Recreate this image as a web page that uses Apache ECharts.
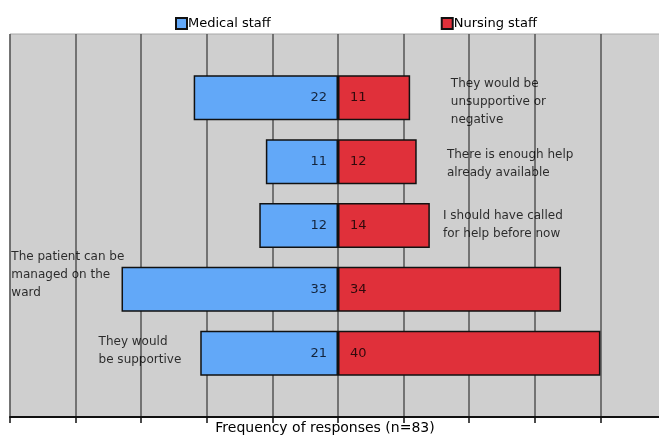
<!DOCTYPE html>
<html>
<head>
<meta charset="utf-8">
<script src="https://cdn.jsdelivr.net/npm/echarts@6/dist/echarts.min.js"></script>
<style>
  html, body { margin: 0; padding: 0; background: #fff; overflow: hidden; }
  /* a bit wider than the window: the +50 gridline falls just off the right edge */
  #chart { width: 666px; height: 437px; }
</style>
</head>
<body>
<div id="chart"></div>
<script>
const categories = [
  'They would be unsupportive or negative',
  'There is enough help already available',
  'I should have called for help before now',
  'The patient can be managed on the ward',
  'They would be supportive'
]
const noteLines = [
  ['They would be', 'unsupportive or', 'negative'],
  ['There is enough help', 'already available'],
  ['I should have called', 'for help before now'],
  ['The patient can be', 'managed on the', 'ward'],
  ['They would', 'be supportive']
]
const medical = [22, 11, 12, 33, 21]
const nursing = [11, 12, 14, 34, 40]

// where each note sits (x in axis units, dy in px), layout only
const notePlace = [
  { x: 17.2, dy: 4 },
  { x: 16.6, dy: 2 },
  { x: 16.0, dy: -1 },
  { x: -49.8, dy: -14 },
  { x: -36.5, dy: -2 }
]

const font = 'DejaVu Sans'
const yData = [' '].concat(categories, ['  '])

const chart = echarts.init(document.getElementById('chart'))
chart.setOption({
  animation: false,
  textStyle: { fontFamily: font },
  legend: {
    left: 175,
    top: 17,
    padding: 0,
    icon: 'rect',
    itemWidth: 11,
    itemHeight: 11,
    itemGap: 170,
    data: ['Medical staff', 'Nursing staff'],
    textStyle: { fontFamily: font, fontSize: 13, color: '#000', padding: [0, 0, 0, -4] }
  },
  grid: {
    left: 10,
    right: 0,
    top: 34,
    bottom: 20,
    outerBoundsMode: 'none',
    containLabel: false,
    show: true,
    backgroundColor: '#cfcfcf',
    borderColor: '#a8a8a8',
    borderWidth: 1
  },
  xAxis: {
    type: 'value',
    min: -50,
    max: 50,
    interval: 10,
    name: 'Frequency of responses (n=83)',
    nameLocation: 'middle',
    nameGap: 4,
    nameTextStyle: { fontFamily: font, fontSize: 14, color: '#000', padding: [0, 26, 0, 0] },
    axisLine: { show: true, onZero: false, lineStyle: { color: '#111', width: 2 } },
    axisTick: { show: true, length: 6, lineStyle: { color: '#111', width: 1.5 } },
    axisLabel: { show: false },
    splitLine: { show: true, lineStyle: { color: '#555', width: 1.5 } }
  },
  yAxis: {
    type: 'category',
    inverse: true,
    boundaryGap: false,
    data: yData,
    axisLine: { show: false },
    axisTick: { show: false },
    axisLabel: { show: false },
    splitLine: { show: false }
  },
  series: [
    {
      name: 'Medical staff',
      type: 'bar',
      stack: 'total',
      barWidth: 45,
      data: ['-'].concat(medical.map(v => -v), ['-']),
      itemStyle: { color: '#62a8f8', borderColor: '#111', borderWidth: 1.5 },
      label: {
        show: true,
        position: 'insideRight',
        distance: 11,
        fontFamily: font,
        fontSize: 13,
        color: '#14243c',
        formatter: p => Math.abs(p.value)
      }
    },
    {
      name: 'Nursing staff',
      type: 'bar',
      stack: 'total',
      barWidth: 45,
      data: ['-'].concat(nursing, ['-']),
      itemStyle: { color: '#e0303a', borderColor: '#111', borderWidth: 1.5 },
      label: {
        show: true,
        position: 'insideLeft',
        distance: 12,
        fontFamily: font,
        fontSize: 13,
        color: '#300a0c',
        formatter: p => p.value
      }
    },
    {
      name: 'notes',
      type: 'scatter',
      symbolSize: 0,
      silent: true,
      data: notePlace.map((p, i) => ({
        value: [p.x, i + 1],
        label: { offset: [0, p.dy] }
      })),
      label: {
        show: true,
        position: 'right',
        distance: 0,
        align: 'left',
        fontFamily: font,
        fontSize: 12,
        lineHeight: 18,
        color: '#000',
        formatter: p => noteLines[p.dataIndex].join('\n')
      }
    }
  ]
})
</script>
</body>
</html>
